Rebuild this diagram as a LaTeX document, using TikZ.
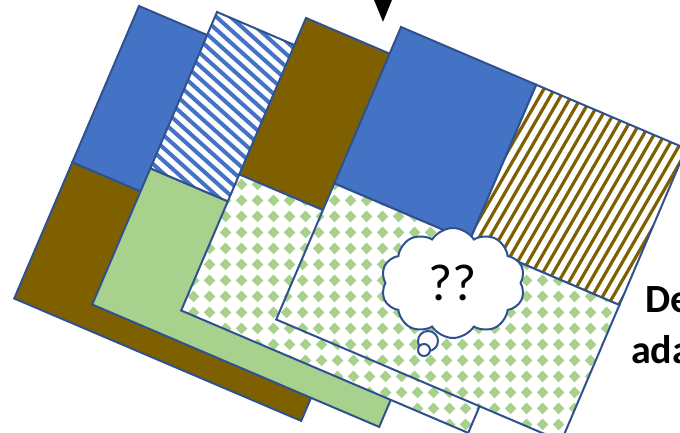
\documentclass[tikz,border=0pt]{standalone}
\usepackage{fontspec}
\setmainfont{Carlito}
\usetikzlibrary{arrows.meta,patterns.meta,shapes.symbols}
\definecolor{slideblue}{HTML}{4472C4}
\definecolor{edgeblue}{HTML}{2F528F}
\definecolor{olivebrown}{HTML}{7F6000}
\definecolor{leafgreen}{HTML}{A9D18E}

\tikzdeclarepattern{
  name=greendiamonds,
  type=uncolored,
  bounding box={(0pt,0pt) and (15.5pt,15.5pt)},
  tile size={(15.5pt,15.5pt)},
  code={
    \fill (7.75pt,1.8pt) -- (13.7pt,7.75pt) -- (7.75pt,13.7pt) -- (1.8pt,7.75pt) -- cycle;
  }
}

\begin{document}
\begin{tikzpicture}[x=1pt,y=-1pt,
    part/.style={draw=edgeblue, line width=2pt},
    bluepart/.style={part, fill=slideblue},
    brownpart/.style={part, fill=olivebrown},
    greenpart/.style={part, fill=leafgreen},
    diamondpart/.style={part, preaction={fill=white},
      pattern=greendiamonds, pattern color=leafgreen},
    bluestripe/.style={slideblue, line width=4pt},
    brownstripe/.style={olivebrown, line width=3.2pt},
    bubble/.style={circle, draw=edgeblue, line width=2pt, fill=white, inner sep=0pt},
    bigword/.style={anchor=base west, inner sep=0pt, font=\bfseries\fontsize{40}{48}\selectfont}
  ]
\useasboundingbox (0,0) rectangle (680,432);
\clip (0,0) rectangle (680,432);

% pointer coming in from above
\coordinate (pointerstart) at (383,-40);
\coordinate (pointertip) at (383,22);
\draw[line width=3pt, -{Triangle[width=17pt,length=22pt]}] (pointerstart) -- (pointertip);

% card 1 (back)
\draw[bluepart] (139,6) -- (426.0,128.4) -- (359.3,284.8) -- (72.3,162.4) -- cycle;
\draw[brownpart] (72.3,162.4) -- (359.3,284.8) -- (301.2,420.9) -- (14.2,298.5) -- cycle;

% card 2
\fill[white] (217,12) -- (504.0,134.4) -- (437.3,290.8) -- (150.3,168.4) -- cycle;
\begin{scope}
  \clip (217,12) -- (504.0,134.4) -- (437.3,290.8) -- (150.3,168.4) -- cycle;
  \foreach \sx in {-200,-185.8,...,520}
    \draw[bluestripe] (\sx,0) -- ++(334,300);
\end{scope}
\draw[part] (217,12) -- (504.0,134.4) -- (437.3,290.8) -- (150.3,168.4) -- cycle;
\draw[greenpart] (150.3,168.4) -- (437.3,290.8) -- (379.2,426.9) -- (92.2,304.5) -- cycle;

% card 3
\draw[brownpart] (306,18) -- (593.0,140.4) -- (526.3,296.8) -- (239.3,174.4) -- cycle;
\draw[diamondpart] (239.3,174.4) -- (526.3,296.8) -- (468.2,432.9) -- (181.2,310.5) -- cycle;

% card 4 (front)
\draw[bluepart] (401,27) -- (536.2,84.7) -- (469.5,241.1) -- (334.3,183.4) -- cycle;
\fill[white] (536.2,84.7) -- (686.1,148.6) -- (619.4,305.0) -- (469.5,241.1) -- cycle;
\begin{scope}
  \clip (536.2,84.7) -- (686.1,148.6) -- (619.4,305.0) -- (469.5,241.1) -- cycle;
  \foreach \sx in {400,410.5,...,700}
    \draw[brownstripe] (\sx,320) -- ++(184.8,-320);
\end{scope}
\draw[part] (536.2,84.7) -- (686.1,148.6) -- (619.4,305.0) -- (469.5,241.1) -- cycle;
\draw[diamondpart] (334.3,183.4) -- (619.4,305.0) -- (561.3,441.1) -- (276.2,319.5) -- cycle;

% thought bubble
\node[bubble, minimum size=20pt] (tailbig) at (428,341) {};
\node[bubble, minimum size=12pt] (tailsmall) at (424,350) {};
\node[cloud, draw=edgeblue, line width=2pt, fill=white, cloud puffs=10,
      cloud puff arc=115, aspect=1.3, minimum width=144pt, minimum height=110pt,
      inner sep=0pt, font=\fontsize{52}{58}\selectfont] (doubt) at (453,283) {??};

% text cut off at the right
\node[bigword] (wordone) at (645,312) {De};
\node[bigword] (wordtwo) at (631,363) {ada};
\end{tikzpicture}
\end{document}
